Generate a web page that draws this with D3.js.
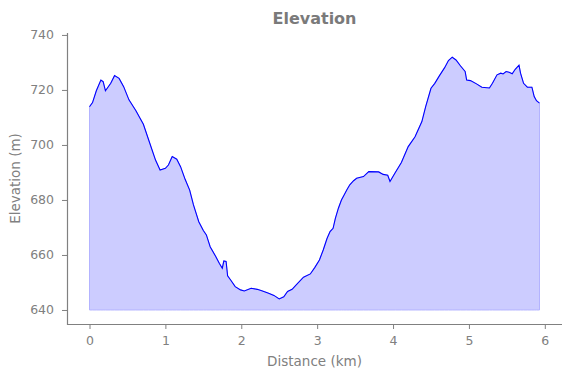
<!DOCTYPE html>
<html><head><meta charset="utf-8">
<script src="https://cdn.jsdelivr.net/npm/d3@7"></script>
<style>body{margin:0;background:#fff}svg{display:block}</style>
</head><body>
<script>
const distanceKm = [0,0.04,0.09,0.15,0.18,0.21,0.28,0.33,0.39,0.45,0.52,0.61,0.71,0.78,0.87,0.93,1.0,1.04,1.09,1.15,1.2,1.26,1.32,1.37,1.44,1.5,1.54,1.59,1.66,1.71,1.75,1.77,1.8,1.82,1.86,1.92,1.99,2.04,2.13,2.21,2.27,2.36,2.43,2.5,2.56,2.61,2.67,2.73,2.82,2.91,2.97,3.03,3.08,3.13,3.17,3.21,3.24,3.28,3.32,3.35,3.39,3.43,3.48,3.52,3.61,3.68,3.81,3.87,3.93,3.96,4.03,4.11,4.2,4.29,4.38,4.43,4.5,4.55,4.61,4.68,4.73,4.78,4.83,4.89,4.95,4.97,5.02,5.1,5.17,5.27,5.31,5.37,5.42,5.45,5.49,5.53,5.57,5.61,5.66,5.68,5.72,5.77,5.83,5.86,5.89,5.93];
const elevationM = [713.9,715.4,719.7,723.6,723,719.7,722.4,725.2,724.2,721.2,716.4,712.5,707.5,701.8,694.5,690.9,691.5,692.7,695.8,694.8,692.1,687.5,683.6,678.2,672.1,668.9,667.3,663,659.6,657,655.2,657.8,657.6,652.4,650.9,648.5,647.3,646.9,647.9,647.5,647,646.1,645.3,644,644.8,646.7,647.5,649.3,651.9,653.1,655.5,658.2,661.8,666,668.5,669.7,673.3,677,680,681.5,683.6,685.5,687,687.9,688.5,690.3,690.2,689.3,689,686.7,690,693.6,699.4,703,708.5,713.9,720.6,722.4,725.1,728.1,730.7,731.9,730.9,728.7,726.7,723.6,723.4,722.2,721,720.7,722.4,725.5,726.1,725.8,726.7,726.4,725.9,727.5,729,726.1,722.4,721,721,717.6,716.1,715.2];
const baseElevation = 640;
const xTicks = [0,1,2,3,4,5,6];
const yTicks = [640,660,680,700,720,740];

const W = 571, H = 378;
const L = 67, R = 562, T = 33, B = 324;
const svg = d3.select("body").append("svg").attr("width", W).attr("height", H);
const x = d3.scaleLinear().domain([-0.2965, 6.2265]).range([L, R]);
const y = d3.scaleLinear().domain([634.9, 740.7]).range([B, T]);
const data = distanceKm.map((d, i) => ({d, e: elevationM[i]}));
const gray = "#808080";
const font = "DejaVu Sans, sans-serif";

svg.append("path").datum(data)
  .attr("d", d3.area().x(p => x(p.d)).y0(y(baseElevation)).y1(p => y(p.e)))
  .attr("fill", "#ccccff").attr("stroke", "#b3b3ff").attr("stroke-width", 1);
svg.append("path").datum(data)
  .attr("d", d3.line().x(p => x(p.d)).y(p => y(p.e)))
  .attr("fill", "none").attr("stroke", "#0000ff").attr("stroke-width", 1.1);

const xa = svg.append("g").attr("transform", `translate(0,${B})`)
  .call(d3.axisBottom(x).tickValues(xTicks).tickFormat(d3.format("d")).tickSizeOuter(0).tickSize(5).tickPadding(7));
const ya = svg.append("g").attr("transform", `translate(${L},0)`)
  .call(d3.axisLeft(y).tickValues(yTicks).tickFormat(d3.format("d")).tickSizeOuter(0).tickSize(5).tickPadding(8));
[xa, ya].forEach(g => {
  g.select(".domain").remove();
  g.selectAll(".tick line").attr("stroke", gray).attr("stroke-width", 1);
  g.selectAll("text").attr("fill", gray).style("font-family", font).style("font-size", "12.5px");
});
svg.append("line").attr("x1", L).attr("x2", R).attr("y1", B + 0.5).attr("y2", B + 0.5)
  .attr("stroke", gray).attr("stroke-width", 1.2);
svg.append("line").attr("x1", L + 0.5).attr("x2", L + 0.5).attr("y1", T).attr("y2", B + 1)
  .attr("stroke", gray).attr("stroke-width", 1.2);

svg.append("text").attr("x", (L + R) / 2).attr("y", 24).attr("text-anchor", "middle")
  .attr("fill", "#7a7a7a").style("font-family", font).style("font-size", "16px").style("font-weight", "bold")
  .text("Elevation");
svg.append("text").attr("x", (L + R) / 2).attr("y", 366).attr("text-anchor", "middle")
  .attr("fill", gray).style("font-family", font).style("font-size", "13.5px").text("Distance (km)");
svg.append("text").attr("transform", `translate(20,${(T + B) / 2}) rotate(-90)`).attr("text-anchor", "middle")
  .attr("fill", gray).style("font-family", font).style("font-size", "13.5px").text("Elevation (m)");
</script>
</body></html>
